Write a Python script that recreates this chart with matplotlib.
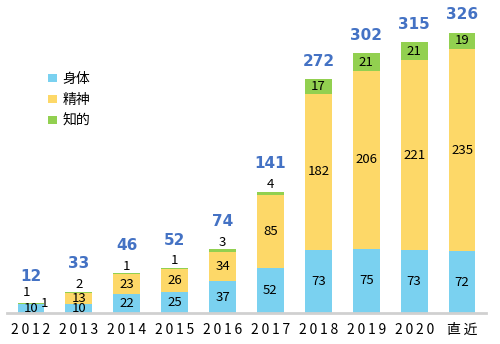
import numpy as np
import matplotlib
matplotlib.use("Agg")
from matplotlib import pyplot as plt

plt.rcParams['font.family'] = ['Noto Sans CJK JP', 'DejaVu Sans']

years = ["2012", "2013", "2014", "2015", "2016", "2017", "2018", "2019", "2020", "直近"]
body = [10, 10, 22, 25, 37, 52, 73, 75, 73, 72]
mind = [1, 13, 23, 26, 34, 85, 182, 206, 221, 235]
intel = [1, 2, 1, 1, 3, 4, 17, 21, 21, 19]
totals = [12, 33, 46, 52, 74, 141, 272, 302, 315, 326]

c_body = "#7AD1F0"
c_mind = "#FDD868"
c_intel = "#92D050"
c_total = "#4472C4"


def main():
    fig = plt.figure(figsize=(5, 3.44), dpi=100)
    ax = fig.add_axes([7 / 500, 31 / 344, 479 / 500, 313 / 344])
    x = np.arange(len(years))
    w = 0.56

    body_a = np.array(body)
    mind_a = np.array(mind)
    intel_a = np.array(intel)

    ax.bar(x, body_a, w, color=c_body, label="身体", zorder=2)
    ax.bar(x, mind_a, w, bottom=body_a, color=c_mind, label="精神", zorder=2)
    ax.bar(x, intel_a, w, bottom=body_a + mind_a, color=c_intel, label="知的", zorder=2)

    fs = 9.5
    for i in range(len(years)):
        b, m, k = body[i], mind[i], intel[i]
        top = b + m + k
        ax.text(x[i], b / 2, str(b), ha="center", va="center", fontsize=fs)
        if i == 0:
            # tiny 2012 segments, labels moved aside like the original
            ax.text(x[i] - 0.1, top + 4, str(m), ha="center", va="bottom", fontsize=fs)
            ax.text(x[i] + 0.28, top - 1, str(k), ha="center", va="center", fontsize=fs)
            off = 22
        elif k < 10:
            ax.text(x[i], b + m / 2, str(m), ha="center", va="center", fontsize=fs)
            ax.text(x[i], top + 1, str(k), ha="center", va="bottom", fontsize=fs)
            off = 24
        else:
            ax.text(x[i], b + m / 2, str(m), ha="center", va="center", fontsize=fs)
            ax.text(x[i], b + m + k / 2, str(k), ha="center", va="center", fontsize=fs)
            off = 12
        ax.text(x[i], top + off, str(totals[i]), ha="center", va="bottom",
                fontsize=11, fontweight="bold", color=c_total, family="DejaVu Sans")

    ax.set_xlim(-0.5, len(years) - 0.5)
    ax.set_ylim(0, 364)
    ax.set_xticks(x)
    ax.set_xticklabels(["\u2009".join(y) for y in years], fontsize=10)
    ax.tick_params(axis="x", length=0, pad=7)
    ax.set_yticks([])
    for s in ["top", "right", "left"]:
        ax.spines[s].set_visible(False)
    ax.spines["bottom"].set_color("#D0D0D0")
    ax.spines["bottom"].set_linewidth(2)

    ax.legend(loc="upper left", bbox_to_anchor=(0.06, 0.81), frameon=False,
              fontsize=10, handlelength=0.6, handleheight=0.6, handletextpad=0.4,
              labelspacing=0.5)

    fig.savefig("out.png")


if __name__ == "__main__":
    main()
